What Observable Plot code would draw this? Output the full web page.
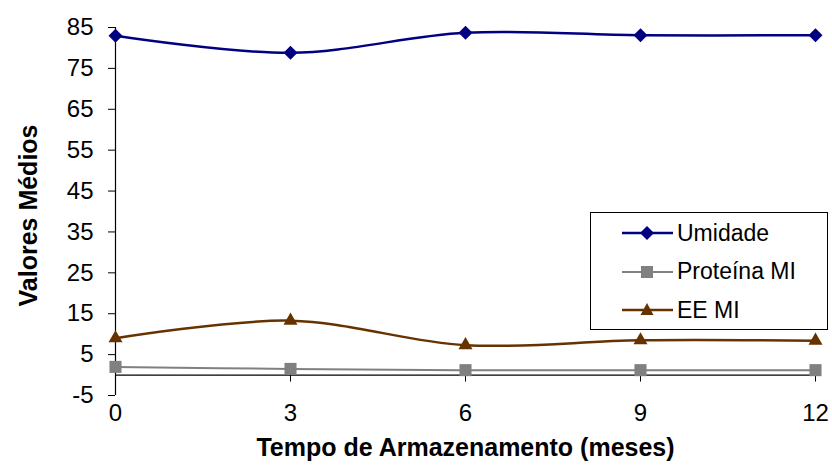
<!DOCTYPE html>
<html>
<head>
<meta charset="utf-8">
<script src="https://cdn.jsdelivr.net/npm/d3@7"></script>
<script src="https://cdn.jsdelivr.net/npm/@observablehq/plot@0.6"></script>
<style>
  body { margin: 0; background: #fff; }
  #wrap { position: relative; width: 832px; height: 466px; font-family: Arial, "Liberation Sans", sans-serif; }
  #legend { position: absolute; left: 590px; top: 212px; width: 238px; height: 118px; border: 1px solid #000; background: #fff; box-sizing: border-box; }
  .item { position: absolute; left: 31px; height: 24px; display: flex; align-items: center; font-size: 23px; color: #000; white-space: nowrap; }
  .item svg { margin-right: 4px; flex: none; }
</style>
</head>
<body>
<div id="wrap"></div>
<script>
// Data
const months = [0, 3, 6, 9, 12];
const umidade = [83.0, 78.8, 83.7, 83.1, 83.1];
const proteina = [2.0, 1.5, 1.2, 1.2, 1.2];
const eeMI = [9.0, 13.3, 7.3, 8.5, 8.4];
const seriesNames = ["Umidade", "Proteína MI", "EE MI"];
const yTicks = [-5, 5, 15, 25, 35, 45, 55, 65, 75, 85];
const xTicks = [0, 3, 6, 9, 12];
const xTitle = "Tempo de Armazenamento (meses)";
const yTitle = "Valores Médios";

const colors = ["#000080", "#808080", "#663300"];
const valuesList = [umidade, proteina, eeMI];

const diamond = {
  draw(context, size) {
    const h = Math.sqrt(size / 2);
    context.moveTo(0, -h);
    context.lineTo(h, 0);
    context.lineTo(0, h);
    context.lineTo(-h, 0);
    context.closePath();
  }
};
const symbols = [diamond, "square", "triangle"];
const radii = [5.6, 6.8, 5.2];

const rows = [];
seriesNames.forEach((name, s) => {
  months.forEach((m, i) => rows.push({series: name, month: m, value: valuesList[s][i]}));
});

const marks = [
  Plot.ruleY([0], {stroke: "#000", strokeWidth: 1.2}),
  Plot.ruleX([0], {stroke: "#000", strokeWidth: 1.2}),
  Plot.ruleX(xTicks, {x: d => d, y1: 0, y2: 0, insetTop: 7, insetBottom: 0, stroke: "#000", strokeWidth: 1}),
  Plot.axisY({ticks: yTicks, tickSize: 7, tickPadding: 15, fontSize: 24, label: null, tickFormat: d => String(d)}),
  Plot.axisX({ticks: xTicks, tickSize: 0, tickPadding: 8, fontSize: 24, label: null}),
  Plot.text([xTitle], {frameAnchor: "bottom", textAnchor: "middle", lineAnchor: "middle", dy: 52, fontSize: 25, fontWeight: "bold", fill: "#000"}),
  Plot.text([yTitle], {frameAnchor: "left", textAnchor: "middle", lineAnchor: "middle", dx: -87, dy: 4, rotate: -90, fontSize: 25, fontWeight: "bold", fill: "#000"})
];
seriesNames.forEach((name, s) => {
  const data = rows.filter(r => r.series === name);
  marks.push(Plot.line(data, {x: "month", y: "value", curve: "catmull-rom", stroke: colors[s], strokeWidth: s === 1 ? 2 : 2.5}));
});
seriesNames.forEach((name, s) => {
  const data = rows.filter(r => r.series === name);
  marks.push(Plot.dot(data, {x: "month", y: "value", symbol: () => symbols[s], r: radii[s], fill: colors[s], stroke: "none"}));
});

const chart = Plot.plot({
  width: 832,
  height: 466,
  marginLeft: 115,
  marginRight: 17,
  marginTop: 27,
  marginBottom: 71,
  style: {fontFamily: "Arial, 'Liberation Sans', sans-serif", fontSize: "24px", color: "#000", background: "#fff", overflow: "visible"},
  x: {domain: [0, 12]},
  y: {domain: [-5, 85]},
  symbol: {type: "identity"},
  marks
});
document.getElementById("wrap").appendChild(chart);

// Legend
const legend = document.createElement("div");
legend.id = "legend";
const shapes = [
  '<path d="M25,0 L32,7 L25,14 L18,7 Z" transform="translate(0,5)"/>',
  '<rect x="19" y="6" width="12" height="12"/>',
  '<path d="M25,5 L31.5,17 L18.5,17 Z"/>'
];
seriesNames.forEach((name, s) => {
  const item = document.createElement("div");
  item.className = "item";
  item.style.top = (8 + s * 38.5) + "px";
  item.innerHTML = `<svg width="51" height="24" viewBox="0 0 51 24"><line x1="0" x2="51" y1="12" y2="12" stroke="${colors[s]}" stroke-width="${s === 1 ? 2 : 2.5}"/><g fill="${colors[s]}">${shapes[s]}</g></svg><span>${name}</span>`;
  legend.appendChild(item);
});
document.getElementById("wrap").appendChild(legend);
</script>
</body>
</html>
